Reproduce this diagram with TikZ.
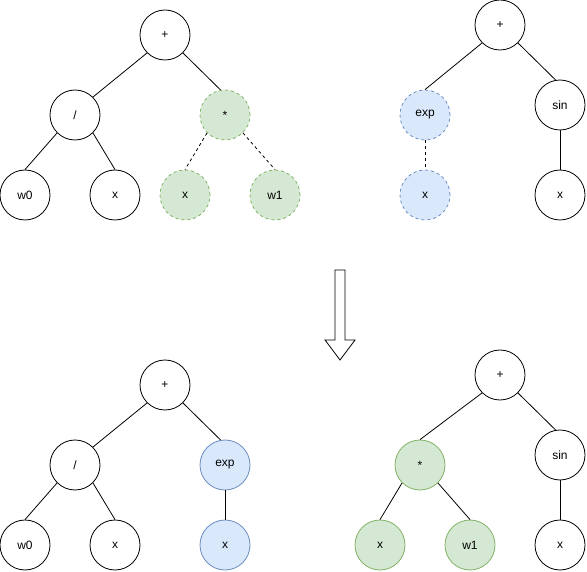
\documentclass[tikz,border=0pt]{standalone}
\usepackage{fontspec}
\setmainfont{Liberation Sans}
\usepackage{xcolor}
\usetikzlibrary{positioning}
\definecolor{gfill}{RGB}{213,232,212}
\definecolor{gline}{RGB}{130,179,102}
\definecolor{bfill}{RGB}{218,232,252}
\definecolor{bline}{RGB}{108,142,191}

\tikzset{
  tnode/.style={circle,draw=black,fill=white,line width=0.8pt,minimum size=50pt,
                inner sep=0pt,font=\fontsize{12}{14}\selectfont},
  gnode/.style={tnode,draw=gline,fill=gfill},
  bnode/.style={tnode,draw=bline,fill=bfill},
  dnode/.style={dash pattern=on 3pt off 3pt},
  tedge/.style={draw=black,line width=0.8pt},
  dedge/.style={tedge,dash pattern=on 3pt off 3pt}
}

\begin{document}
\begin{tikzpicture}[x=1pt,y=-1pt]
  \useasboundingbox (0,0) rectangle (587,572);

  % top left tree
  \node[tnode] (tlplus) at (165,35) {+};
  \node[tnode] (tldiv) at (75,115) {/};
  \node[gnode,dnode] (tlmul) at (225,115) {*};
  \node[tnode] (tlwz) at (25,195) {w0};
  \node[tnode] (tlx) at (115,195) {x};
  \node[gnode,dnode] (tlmx) at (185,195) {x};
  \node[gnode,dnode] (tlwo) at (275,195) {w1};
  \draw[tedge] (tlplus.south west) -- (tldiv.north east);
  \draw[tedge] (tlplus.south east) -- (tlmul.100);
  \draw[tedge] (tldiv.south west) -- (tlwz.north);
  \draw[tedge] (tldiv.south east) -- (tlx.north);
  \draw[dedge] (tlmul.south west) -- (tlmx.north);
  \draw[dedge] (tlmul.south east) -- (tlwo.north);

  % top right tree
  \node[tnode] (trplus) at (500,25) {+};
  \node[bnode,dnode] (trexp) at (425,115) {exp};
  \node[tnode] (trsin) at (560,105) {sin};
  \node[bnode,dnode] (trex) at (425,195) {x};
  \node[tnode] (trsx) at (560,195) {x};
  \draw[tedge] (trplus.south west) -- (trexp.north);
  \draw[tedge] (trplus.south east) -- (trsin.100);
  \draw[dedge] (trexp.south) -- (trex.north);
  \draw[tedge] (trsin.south) -- (trsx.north);

  % swap arrow
  \draw[line width=0.8pt,fill=white] (335,270) -- (345,270) -- (345,340) -- (355,340)
    -- (340,360) -- (325,340) -- (335,340) -- cycle;

  % bottom left tree
  \node[tnode] (blplus) at (165,385) {+};
  \node[tnode] (bldiv) at (75,465) {/};
  \node[bnode] (blexp) at (225,465) {exp};
  \node[tnode] (blwz) at (25,545) {w0};
  \node[tnode] (blx) at (115,545) {x};
  \node[bnode] (blex) at (225,545) {x};
  \draw[tedge] (blplus.south west) -- (bldiv.north east);
  \draw[tedge] (blplus.south east) -- (blexp.100);
  \draw[tedge] (bldiv.south west) -- (blwz.north);
  \draw[tedge] (bldiv.south east) -- (blx.north);
  \draw[tedge] (blexp.south) -- (blex.north);

  % bottom right tree
  \node[tnode] (brplus) at (500,375) {+};
  \node[gnode] (brmul) at (420,465) {*};
  \node[tnode] (brsin) at (560,455) {sin};
  \node[gnode] (brmx) at (380,545) {x};
  \node[gnode] (brwo) at (470,545) {w1};
  \node[tnode] (brsx) at (560,545) {x};
  \draw[tedge] (brplus.south west) -- (brmul.north);
  \draw[tedge] (brplus.south east) -- (brsin.100);
  \draw[tedge] (brmul.south west) -- (brmx.north);
  \draw[tedge] (brmul.south east) -- (brwo.north);
  \draw[tedge] (brsin.south) -- (brsx.north);
\end{tikzpicture}
\end{document}
